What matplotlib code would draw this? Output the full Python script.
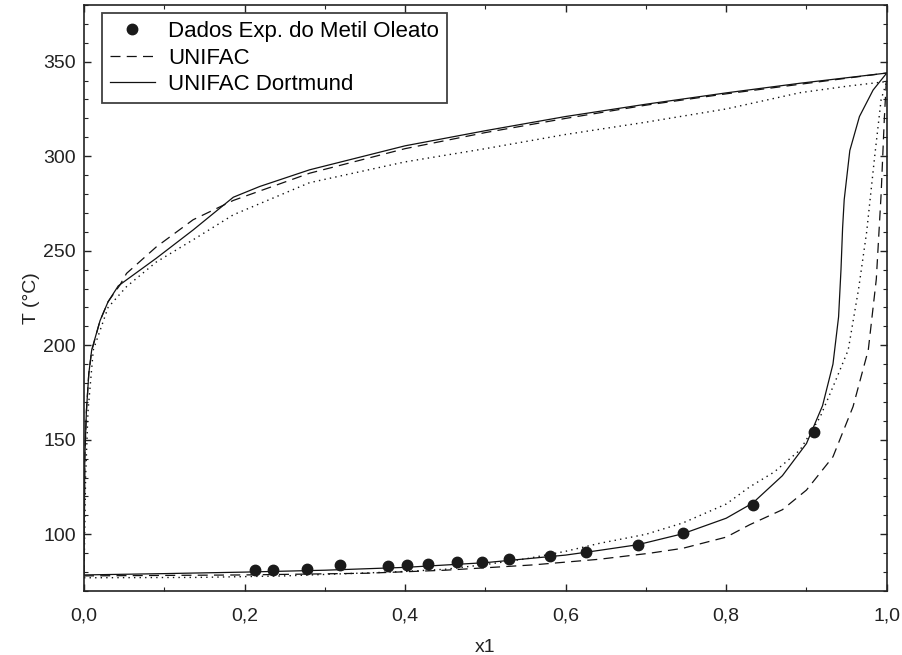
import matplotlib
matplotlib.use('Agg')
import matplotlib.pyplot as plt
from matplotlib.ticker import MultipleLocator, FuncFormatter

# ── Data ──────────────────────────────────────────────────────────────────────

# experimental points
exp_x = [0.213, 0.236, 0.278, 0.319, 0.379, 0.402, 0.428, 0.465, 0.496, 0.530,
         0.580, 0.625, 0.690, 0.746, 0.833, 0.909]
exp_T = [81.1, 81.1, 81.5, 83.8, 83.2, 83.8, 84.3, 85.2, 85.5, 86.8,
         88.5, 90.5, 94.5, 100.8, 115.3, 154.1]

# UNIFAC Dortmund (solid)
dort_bub_x = [0.0, 0.1, 0.2, 0.3, 0.4, 0.5, 0.6, 0.642, 0.69, 0.746, 0.8, 0.833,
              0.87, 0.9, 0.92, 0.933, 0.94, 0.943, 0.945, 0.947, 0.954, 0.966,
              0.983, 1.0]
dort_bub_T = [78.5, 79.2, 80.0, 81.0, 82.5, 85.0, 89.0, 91.5, 94.5, 100.3, 108.5,
              116.5, 131.0, 148.0, 168.0, 190.0, 215.0, 240.0, 262.0, 277.0, 303.0,
              321.0, 335.0, 344.0]
dort_dew_x = [0.0, 0.001, 0.003, 0.006, 0.0096, 0.02, 0.03, 0.0427, 0.09, 0.136,
              0.186, 0.219, 0.281, 0.4, 0.5, 0.6, 0.7, 0.8, 0.892, 1.0]
dort_dew_T = [78.5, 140.0, 165.0, 185.0, 197.5, 213.0, 223.0, 231.4, 246.0, 261.0,
              278.3, 284.0, 292.8, 305.5, 313.5, 321.0, 327.5, 333.5, 338.6, 344.0]

# UNIFAC (dashed)
unif_bub_x = [0.0, 0.2, 0.352, 0.45, 0.559, 0.642, 0.705, 0.746, 0.8, 0.829, 0.87,
              0.9, 0.933, 0.958, 0.977, 0.987, 0.993, 0.997, 1.0]
unif_bub_T = [78.0, 78.5, 79.4, 81.0, 83.8, 86.8, 90.0, 92.6, 98.5, 105.0, 113.0,
              123.4, 141.0, 167.5, 197.5, 235.0, 280.0, 320.0, 344.0]
unif_dew_x = [0.0, 0.001, 0.003, 0.006, 0.0096, 0.02, 0.03, 0.045, 0.053, 0.09,
              0.136, 0.186, 0.281, 0.4, 0.5, 0.6, 0.7, 0.8, 0.9, 1.0]
unif_dew_T = [78.0, 140.0, 165.0, 185.0, 197.0, 213.0, 223.0, 232.0, 238.0, 252.0,
              266.4, 276.6, 291.0, 304.0, 312.5, 320.0, 327.0, 333.0, 338.5, 344.0]

# third model (dotted, not in legend)
dot_bub_x = [0.0, 0.144, 0.25, 0.393, 0.45, 0.5, 0.55, 0.6, 0.642, 0.7, 0.746, 0.8,
             0.829, 0.86, 0.892, 0.917, 0.935, 0.952, 0.965, 0.975, 0.985, 0.993, 1.0]
dot_bub_T = [77.0, 77.2, 78.0, 80.2, 81.5, 84.0, 87.0, 91.0, 95.2, 100.0, 106.0,
             116.0, 125.0, 133.0, 144.6, 162.0, 180.0, 197.5, 230.0, 260.0, 300.0,
             330.0, 339.5]
dot_dew_x = [0.0, 0.002, 0.005, 0.0116, 0.03, 0.053, 0.09, 0.136, 0.186, 0.281,
             0.4, 0.5, 0.6, 0.7, 0.8, 0.892, 0.95, 1.0]
dot_dew_T = [77.0, 130.0, 165.0, 197.5, 220.0, 231.0, 244.0, 255.8, 269.0, 286.0,
             297.0, 304.0, 311.5, 318.0, 325.0, 333.6, 337.0, 339.5]

x_ticks = [0.0, 0.2, 0.4, 0.6, 0.8, 1.0]
y_ticks = [100, 150, 200, 250, 300, 350]

# ── Style ─────────────────────────────────────────────────────────────────────

plt.rcParams.update({
    'font.family': 'Liberation Sans',
    'font.size': 14,
    'axes.linewidth': 1.2,
    'axes.edgecolor': '#222222',
})

LINE = '#111111'

fig = plt.figure(figsize=(9.03, 6.55), dpi=100)
ax = fig.add_axes([0.093, 0.0977, 0.889, 0.8947])

ax.plot(dot_bub_x, dot_bub_T, color=LINE, lw=1.0, ls=(0, (1, 3)))
ax.plot(dot_dew_x, dot_dew_T, color=LINE, lw=1.0, ls=(0, (1, 3)))
ax.plot(unif_bub_x, unif_bub_T, color=LINE, lw=0.9, ls=(0, (8, 5)))
ax.plot(unif_dew_x, unif_dew_T, color=LINE, lw=0.9, ls=(0, (8, 5)),
        label='UNIFAC')
ax.plot(dort_bub_x, dort_bub_T, color=LINE, lw=0.9)
ax.plot(dort_dew_x, dort_dew_T, color=LINE, lw=0.9, label='UNIFAC Dortmund')
ax.plot(exp_x, exp_T, 'o', color='#1a1a1a', ms=7.5, ls='none',
        label='Dados Exp. do Metil Oleato')

ax.set_xlim(0, 1)
ax.set_ylim(70, 380)
ax.set_xticks(x_ticks)
ax.set_yticks(y_ticks)
ax.xaxis.set_minor_locator(MultipleLocator(0.1))
ax.yaxis.set_minor_locator(MultipleLocator(10))
ax.xaxis.set_major_formatter(FuncFormatter(lambda v, p: f'{v:.1f}'.replace('.', ',')))
ax.tick_params(which='both', direction='in', top=True, right=True,
               colors='#222222', labelcolor='#222222')
ax.tick_params(which='major', length=5, width=1, labelsize=14, pad=12)
ax.tick_params(which='minor', length=3, width=0.8)
ax.tick_params(axis='y', which='major', pad=6)

ax.set_xlabel('x1', fontsize=14, labelpad=10, color='#222222')
ax.set_ylabel('T (°C)', fontsize=14, labelpad=2, color='#222222')

handles, labels = ax.get_legend_handles_labels()
order = [2, 0, 1]
leg = ax.legend([handles[i] for i in order], [labels[i] for i in order],
                loc='upper left', bbox_to_anchor=(0.023, 0.986), fontsize=16,
                frameon=True, fancybox=False, edgecolor='#111111',
                handlelength=2.0, handletextpad=0.6, borderpad=0.35,
                labelspacing=0.25, borderaxespad=0)
leg.get_frame().set_linewidth(1.3)

fig.savefig('out.png', dpi=100)
